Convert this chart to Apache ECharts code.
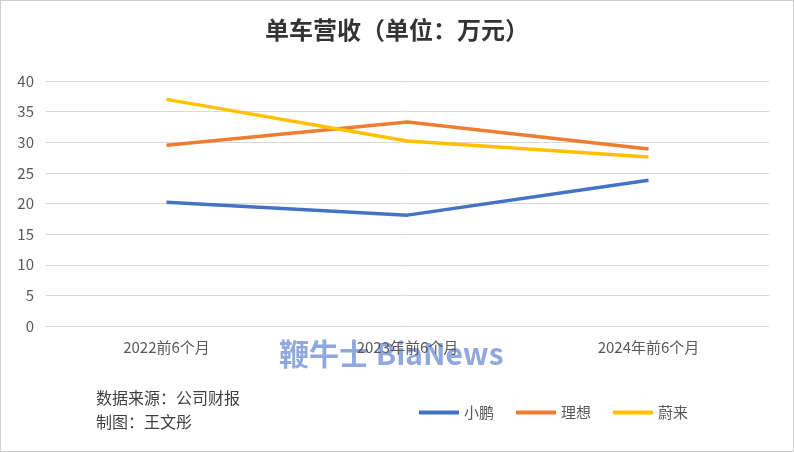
<!DOCTYPE html>
<html><head><meta charset="utf-8">
<script src="https://cdn.jsdelivr.net/npm/echarts@6/dist/echarts.min.js"></script>
<style>html,body{margin:0;padding:0;background:#fff}#c{width:794px;height:452px;box-sizing:border-box;border:1px solid #d0d0d0}</style>
</head><body><div id="c"></div>
<script>
const categories = ['2022前6个月', '2023年前6个月', '2024年前6个月'];
const xiaopeng = [20.2, 18.1, 23.8];
const lixiang = [29.5, 33.3, 28.9];
const weilai = [37.0, 30.2, 27.6];
const font = '"Noto Sans CJK SC", sans-serif';
const chart = echarts.init(document.getElementById('c'));
const mk = (name, data, color) => ({name, type:'line', data, symbol:'none', smooth:false,
  lineStyle:{width:3.5, color}, itemStyle:{color}});
chart.setOption({
  animation:false,
  title:{text:'单车营收（单位：万元）', left:'center', top:12,
    textStyle:{fontFamily:font, fontSize:24, fontWeight:'bold', color:'#333'}},
  grid:{left:45, right:24, top:80, bottom:125},
  xAxis:{type:'category', data:categories, boundaryGap:true,
    axisLine:{lineStyle:{color:'#d9d9d9'}}, axisTick:{show:false},
    axisLabel:{fontFamily:font, fontSize:15, color:'#595959', margin:14}},
  yAxis:{type:'value', min:0, max:40, interval:5,
    axisLine:{show:false}, axisTick:{show:false},
    splitLine:{lineStyle:{color:'#d9d9d9'}},
    axisLabel:{fontFamily:font, fontSize:15, color:'#595959', margin:12}},
  legend:{bottom:26, right:100, itemWidth:40, itemHeight:4, itemGap:22, icon:'rect',
    textStyle:{fontFamily:font, fontSize:15, color:'#595959'}},
  graphic:[
    {type:'text', left:95, top:385, style:{text:'数据来源：公司财报\n制图：王文彤', font:'16px '+font, fill:'#404040', lineHeight:24}},
    {type:'text', left:278, top:338, style:{text:'鞭牛士 BiaNews', font:'bold 30px "Noto Sans CJK SC", serif', fill:'rgba(70,110,200,0.6)'}}
  ],
  series:[mk('小鹏', xiaopeng, '#4472c4'), mk('理想', lixiang, '#ed7d31'), mk('蔚来', weilai, '#ffc000')]
});
</script></body></html>
